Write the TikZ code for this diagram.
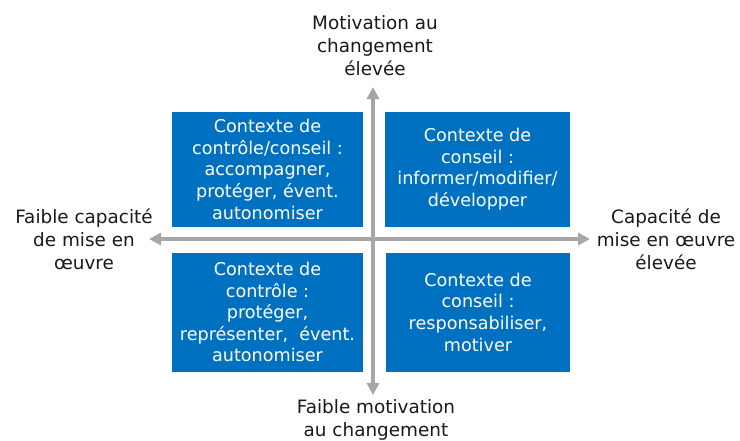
\documentclass[tikz,border=0pt]{standalone}
\usepackage{fontspec}
\setmainfont{DejaVu Sans}
\usetikzlibrary{arrows.meta}
\definecolor{quadblue}{HTML}{0070C0}
\definecolor{axisgray}{HTML}{A6A6A6}
\definecolor{labelgray}{HTML}{1A1A1A}
\tikzset{
  quad/.style={fill=quadblue, draw=none, text=white, align=center, inner sep=0pt,
    font=\fontsize{17.6}{21.6}\selectfont},
  axislabel/.style={text=labelgray, align=center, inner sep=0pt,
    font=\fontsize{18.4}{23}\selectfont},
  axisline/.style={draw=axisgray, line width=4pt,
    {Triangle[width=12pt,length=12pt]}-{Triangle[width=12pt,length=12pt]}}
}
\begin{document}
\begin{tikzpicture}[x=1pt, y=-1pt]
  \useasboundingbox (0,0) rectangle (740,440);
  \fill[white] (0,0) rectangle (740,440);

  % axis end points
  \coordinate (west) at (149,239);
  \coordinate (east) at (590,239);
  \coordinate (north) at (373,87);
  \coordinate (south) at (373,395);

  % axes
  \draw[axisline] (west) -- (east);
  \draw[axisline] (south) -- (north);

  % quadrants
  \node[quad, minimum width=191pt, minimum height=114.5pt] (tl) at (267.5,169.3)
    {Contexte de\\contrôle/conseil :\\accompagner,\\protéger, évent.\\autonomiser};
  \node[quad, minimum width=185pt, minimum height=114.5pt] (tr) at (477.5,169.3)
    {Contexte de\\conseil :\\informer/modifier/\\développer};
  \node[quad, minimum width=191pt, minimum height=119pt] (bl) at (267.5,312.2)
    {Contexte de\\contrôle :\\protéger,\\représenter,~ évent.\\autonomiser};
  \node[quad, minimum width=184pt, minimum height=119pt] (br) at (478,312.2)
    {Contexte de\\conseil :\\responsabiliser,\\motiver};

  % axis labels
  \node[axislabel] (top) at (375,46) {Motivation au\\changement\\élevée};
  \node[axislabel] (bottom) at (376,420) {Faible motivation\\au changement};
  \node[axislabel] (left) at (84,239) {Faible capacité\\de mise en\\œuvre};
  \node[axislabel] (right) at (666,239) {Capacité de\\mise en œuvre\\élevée};
\end{tikzpicture}
\end{document}
